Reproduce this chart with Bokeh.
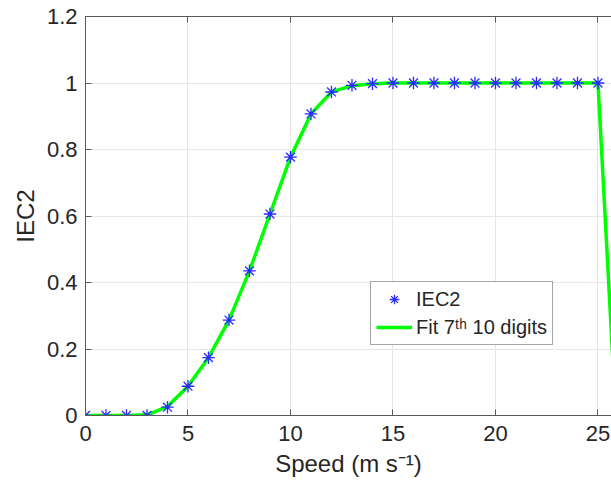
from bokeh.plotting import figure
from bokeh.models import (Range1d, FixedTicker, CustomJSTickFormatter, LinearAxis,
                          Legend, LegendItem, CustomLabelingPolicy)
from bokeh.embed import file_html
from bokeh.resources import INLINE

# ---- data ----
speed = [0, 1, 2, 3, 4, 5, 6, 7, 8, 9, 10, 11, 12, 13, 14, 15, 16, 17, 18, 19, 20,
         21, 22, 23, 24, 25]
iec2 = [0, 0, 0, 0, 0.025, 0.088, 0.174, 0.287, 0.435, 0.606, 0.777, 0.907, 0.973,
        0.993, 0.998, 1, 1, 1, 1, 1, 1, 1, 1, 1, 1, 1]
fit_speed = [0, 1, 2, 3, 4, 5, 6, 7, 8, 9, 10, 11, 12, 13, 14, 15, 16, 17, 18, 19, 20,
             21, 22, 23, 24, 25, 26]
fit_vals = [0, 0, 0, 0.002, 0.027, 0.088, 0.174, 0.287, 0.435, 0.606, 0.777, 0.907,
            0.973, 0.992, 0.998, 1, 1, 1, 1, 1, 1, 1, 1, 1, 1, 1, -0.15]
xticks = [0, 5, 10, 15, 20, 25]
yticks = [0, 0.2, 0.4, 0.6, 0.8, 1.0, 1.2]

FONT = "Liberation Sans"
TXT = "#262626"
AX = "#5a5a5a"

p = figure(width=611, height=493, output_backend="svg", toolbar_location=None,
           x_range=Range1d(0, 25.66), y_range=Range1d(0, 1.2),
           min_border_left=85, min_border_right=0, min_border_top=16,
           min_border_bottom=78, background_fill_color="white",
           border_fill_color="white")
p.outline_line_color = None

ln = p.line(fit_speed, fit_vals, line_color="#00ff00", line_width=3.5)
sc = p.scatter(speed, iec2, marker="asterisk", size=12.5, line_color="#2a2aff",
               line_width=1.3)

p.xaxis.ticker = FixedTicker(ticks=xticks)
p.yaxis.ticker = FixedTicker(ticks=yticks)
p.yaxis.formatter = CustomJSTickFormatter(code="return Number(tick.toFixed(4)).toString();")
p.xaxis.axis_label = "Speed (m s\u207b\u00b9)"
p.yaxis.axis_label = "IEC2"

for ax in p.axis:
    ax.major_label_text_font_size = "22px"
    ax.axis_label_text_font_size = "24px"

# top box edge with inward ticks, no labels drawn
no_labels = CustomLabelingPolicy(code="""
for (const i of Array.from(indices)) { indices.unset(i) }
return indices
""")
top = LinearAxis(ticker=FixedTicker(ticks=xticks), major_label_policy=no_labels,
                 major_label_standoff=0, major_label_text_font_size="0px")
p.add_layout(top, "above")

for ax in p.axis:
    ax.axis_line_color = AX
    ax.axis_line_width = 1
    ax.major_tick_line_color = AX
    ax.major_tick_in = 6
    ax.major_tick_out = 0
    ax.minor_tick_line_color = None
    ax.major_label_text_font = FONT
    ax.axis_label_text_font = FONT
    ax.major_label_text_color = TXT
    ax.axis_label_text_color = TXT
    ax.axis_label_text_font_style = "normal"

p.yaxis.major_label_standoff = 8
p.xaxis.major_label_standoff = 10
p.yaxis.axis_label_standoff = 5
p.xaxis.axis_label_standoff = 6

p.grid.grid_line_color = "#e6e6e6"
p.grid.grid_line_width = 1

legend = Legend(items=[LegendItem(label="IEC2", renderers=[sc]),
                       LegendItem(label="Fit 7\u1d57\u02b0 10 digits", renderers=[ln])],
                location=(285, 70))
legend.label_text_font = FONT
legend.label_text_font_size = "20px"
legend.label_text_color = TXT
legend.glyph_width = 36
legend.glyph_height = 24
legend.label_height = 24
legend.label_standoff = 4
legend.padding = 5
legend.spacing = 4
legend.margin = 0
legend.border_line_color = "#4d4d4d"
legend.border_line_width = 1
legend.background_fill_color = "white"
legend.background_fill_alpha = 1
p.add_layout(legend)

open("out.html", "w").write(file_html(p, INLINE))
